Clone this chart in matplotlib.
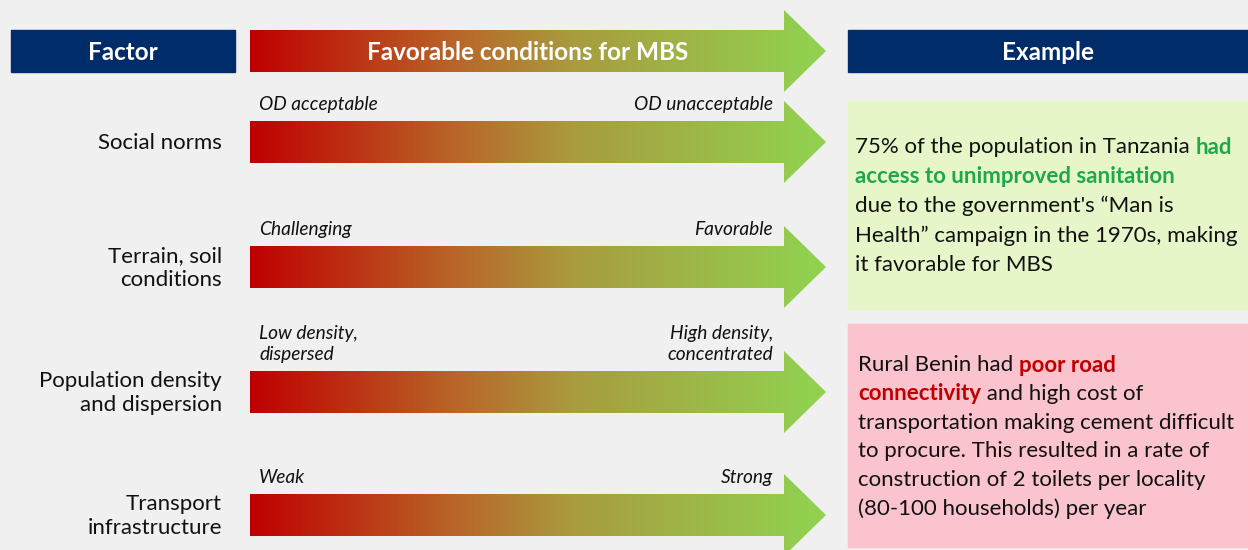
import numpy as np
import matplotlib
matplotlib.use("Agg")
import matplotlib.pyplot as plt
from matplotlib.patches import Polygon, Rectangle
from matplotlib.colors import LinearSegmentedColormap

# content
header_factor = "Factor"
header_arrow = "Favorable conditions for MBS"
header_example = "Example"
factors = ["Social norms", "Terrain, soil\nconditions",
           "Population density\nand dispersion", "Transport\ninfrastructure"]
left_labels = ["OD acceptable", "Challenging", "Low density,\ndispersed", "Weak"]
right_labels = ["OD unacceptable", "Favorable", "High density,\nconcentrated", "Strong"]

# example boxes: lines made of (text, highlighted) runs
green_lines = [
    [("75% of the population in Tanzania ", False), ("had", True)],
    [("access to unimproved sanitation", True)],
    [("due to the government's \u201cMan is", False)],
    [("Health\u201d campaign in the 1970s, making", False)],
    [("it favorable for MBS", False)],
]
pink_lines = [
    [("Rural Benin had ", False), ("poor road", True)],
    [("connectivity", True), (" and high cost of", False)],
    [("transportation making cement difficult", False)],
    [("to procure. This resulted in a rate of", False)],
    [("construction of 2 toilets per locality", False)],
    [("(80-100 households) per year", False)],
]

FONT = "Lato"
NAVY = "#002d6a"
BG = "#f0f0f0"
grad_cmap = LinearSegmentedColormap.from_list(
    "rg", [(0, "#c00000"), (0.38, "#b8692a"), (0.58, "#a99c3e"), (1, "#92d050")])

fig = plt.figure(figsize=(12.48, 5.5), dpi=100, facecolor=BG)
ax = fig.add_axes([0, 0, 1, 1])
ax.set_xlim(0, 1248)
ax.set_ylim(550, 0)
ax.axis("off")
ax.set_facecolor(BG)


def arrow(cy):
    x0, xb, xt, hb, hh = 250, 784, 826, 21, 41
    pts = [(x0, cy - hb), (xb, cy - hb), (xb, cy - hh), (xt, cy),
           (xb, cy + hh), (xb, cy + hb), (x0, cy + hb)]
    poly = Polygon(pts, closed=True, facecolor="none", edgecolor="none")
    ax.add_patch(poly)
    grad = np.clip(np.linspace(0, 1.03, 600), 0, 1).reshape(1, -1)
    im = ax.imshow(grad, cmap=grad_cmap, extent=(x0, xt, cy + hh, cy - hh),
                   aspect="auto", interpolation="bilinear", zorder=2)
    im.set_clip_path(poly)


# header
ax.add_patch(Rectangle((11, 30), 224, 42, color=NAVY))
ax.add_patch(Rectangle((848, 30), 400, 42, color=NAVY))
ax.text(123, 52, header_factor, color="white", fontsize=17.5, fontweight="bold",
        family=FONT, ha="center", va="center")
ax.text(1048, 52, header_example, color="white", fontsize=17.5, fontweight="bold",
        family=FONT, ha="center", va="center")
arrow(51)
ax.text(528, 52, header_arrow, color="white", fontsize=17.5, fontweight="bold",
        family=FONT, ha="center", va="center", zorder=5)

# rows
centers = [142, 267, 392, 515]
for i, cy in enumerate(centers):
    arrow(cy)
    ax.text(222, cy + 1, factors[i], fontsize=16, family=FONT, ha="right",
            va="center", linespacing=1.25, color="#111111")
    ax.text(259, cy - 29, left_labels[i], fontsize=13.8, family=FONT,
            style="italic", ha="left", va="bottom", linespacing=1.3,
            color="#111111")
    ax.text(773, cy - 29, right_labels[i], fontsize=13.8, family=FONT,
            style="italic", ha="right", va="bottom", linespacing=1.3,
            color="#111111")

# example boxes
ax.add_patch(Rectangle((848, 101), 400, 208, color="#e6f6c8"))
ax.add_patch(Rectangle((848, 324), 400, 223, color="#fac3ce"))

fig.canvas.draw()
renderer = fig.canvas.get_renderer()


def runs_block(x0, y0, step, lines, hcolor):
    y = y0
    for line in lines:
        x = x0
        for s, hl in line:
            t = ax.text(x, y, s, fontsize=16, family=FONT,
                        fontweight="bold" if hl else "normal",
                        color=hcolor if hl else "#111111",
                        ha="left", va="center")
            x += t.get_window_extent(renderer).width
        y += step


runs_block(855, 147, 29.5, green_lines, "#1fa84a")
runs_block(858, 365, 28.8, pink_lines, "#c00000")

fig.savefig("out.png", dpi=100, facecolor=BG)
